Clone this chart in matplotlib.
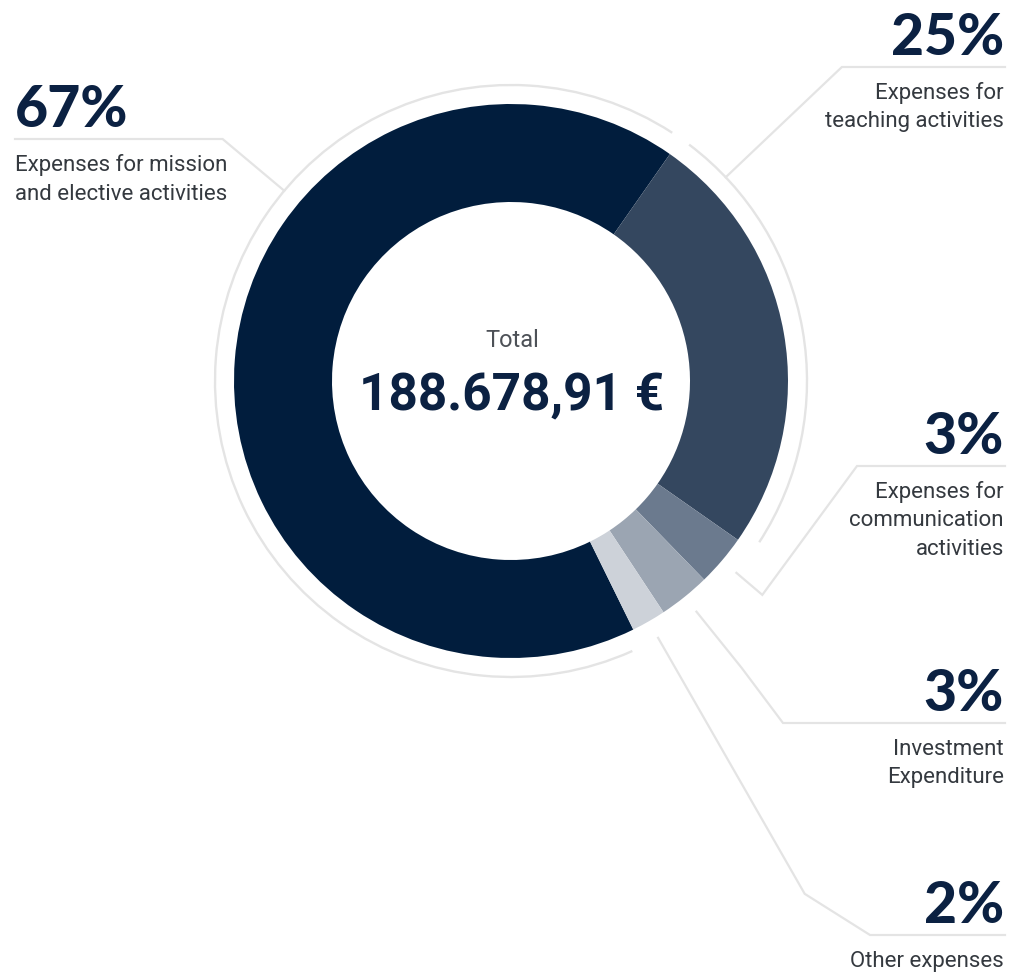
import numpy as np
import matplotlib
matplotlib.use("Agg")
import matplotlib.pyplot as plt
from matplotlib.patches import Arc

# --- data ---
categories = [
    "Expenses for mission\nand elective activities",
    "Expenses for\nteaching activities",
    "Expenses for\ncommunication\nactivities",
    "Investment\nExpenditure",
    "Other expenses",
]
shares = [67, 25, 3, 3, 2]
colors = ["#011d3d", "#34475f", "#6b7a8e", "#9ba5b2", "#cdd2d9"]
total_title = "Total"
total_value = "188.678,91 €"

# --- layout (pixels, y measured from top) ---
W, H = 1012, 975
cx, cy = 511, 381
R, R_in, R_ring = 277, 179, 296
split_deg = 55          # boundary between first and second wedge
ring_gap = 2.0

# leader lines: angle on the ring (None -> wedge middle), bend radius, bend target, line y, line end x
lead_ang = [140, 43.5, None, None, None]
lead_rbend = [None, None, 330, 368, 591]
lead_xbend = [None, None, 857, 783, 870]
lead_y = [139, 67, 466, 723, 935]
lead_xend = [15, 1005, 1005, 1005, 1005]
label_side = ["left", "right", "right", "right", "right"]

navy = "#0b2142"
txt_grey = "#34393f"
line_c = "#e4e4e4"


def Y(y):
    return H - y


def on_circle(r, ang):
    a = np.radians(ang)
    return cx + r * np.cos(a), cy - r * np.sin(a)


fig = plt.figure(figsize=(W / 100, H / 100), dpi=100)
ax = fig.add_axes([0, 0, 1, 1])

start = split_deg + 360 * shares[0] / sum(shares)
wedges, _ = ax.pie(shares, colors=colors, startangle=start, counterclock=False,
                   radius=R, center=(cx, Y(cy)),
                   wedgeprops=dict(width=R - R_in, linewidth=0))

# thin outer ring pieces around the large wedges
for w, s in zip(wedges, shares):
    if s >= 10:
        ax.add_patch(Arc((cx, Y(cy)), 2 * R_ring, 2 * R_ring,
                         theta1=w.theta1 + ring_gap, theta2=w.theta2 - ring_gap,
                         color=line_c, lw=1.7, zorder=1))

# leaders
for i, w in enumerate(wedges):
    ang = lead_ang[i] if lead_ang[i] is not None else (w.theta1 + w.theta2) / 2
    x0, y0 = on_circle(R_ring, ang)
    if lead_rbend[i] is None:
        r1 = (cy - lead_y[i]) / np.sin(np.radians(ang))
        x1, y1 = on_circle(r1, ang)
        xs = [x0, x1, lead_xend[i]]
        ys = [y0, y1, lead_y[i]]
    else:
        x1, y1 = on_circle(lead_rbend[i], ang)
        xs = [x0, x1, lead_xbend[i], lead_xend[i]]
        ys = [y0, y1, lead_y[i], lead_y[i]]
    ax.plot(xs, [Y(v) for v in ys], color=line_c, lw=1.6, solid_joinstyle="miter", zorder=1)

    side = label_side[i]
    ha = "left" if side == "left" else "right"
    tx = 15 if side == "left" else 1004
    ax.text(tx, Y(lead_y[i] - 12), f"{shares[i]}%", ha=ha, va="baseline",
            fontsize=41, fontweight="black", family="Lato", color=navy)
    for j, line in enumerate(categories[i].split("\n")):
        ax.text(tx, Y(lead_y[i] + 32 + j * 28.5), line, ha=ha, va="baseline",
                fontsize=16, family="Roboto", color=txt_grey)

# centre text
ax.text(cx + 1, Y(347), total_title, ha="center", va="baseline",
        fontsize=17, family="Roboto", color="#4d5157")
ax.text(cx + 1, Y(410), total_value, ha="center", va="baseline",
        fontsize=37, family="Roboto", fontweight="bold", color=navy)

ax.set_xlim(0, W)
ax.set_ylim(0, H)
ax.set_aspect("equal")
ax.axis("off")

fig.savefig("out.png", dpi=100, facecolor="white")
